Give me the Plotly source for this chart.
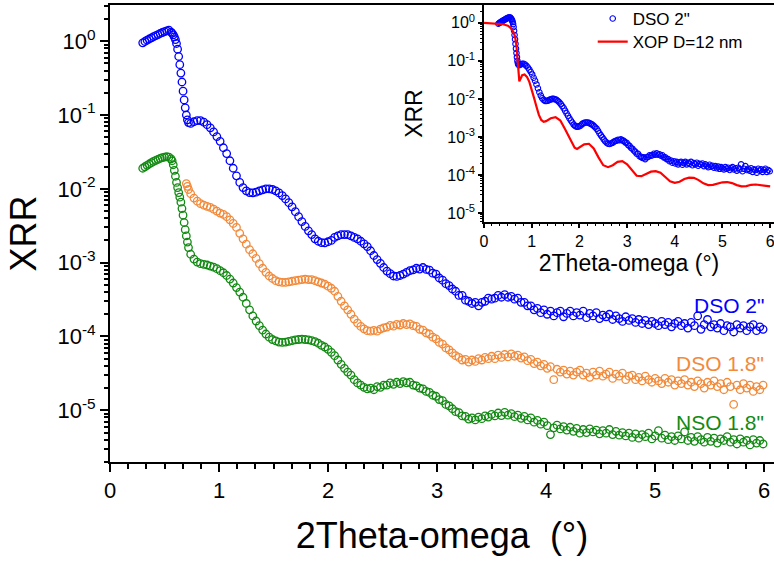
import plotly.graph_objects as go

# ---------------- data ----------------
x_scan = [
    0.30, 0.32, 0.34, 0.36, 0.38, 0.40, 0.42, 0.44, 0.46, 0.48, 0.50, 0.52, 0.54, 0.56,
    0.57, 0.58, 0.59, 0.60, 0.61, 0.62, 0.63, 0.64, 0.65, 0.66, 0.67, 0.68, 0.69, 0.70, 0.71, 0.72,
    0.74, 0.77, 0.80, 0.83, 0.86, 0.89, 0.92, 0.95, 0.98, 1.01,
    1.04, 1.07, 1.10, 1.13, 1.16, 1.19, 1.22, 1.25, 1.28, 1.31,
    1.34, 1.37, 1.40, 1.43, 1.46, 1.49, 1.52, 1.55, 1.58, 1.61,
    1.64, 1.67, 1.70, 1.73, 1.76, 1.79, 1.82, 1.85, 1.88, 1.91,
    1.94, 1.97, 2.00, 2.03, 2.06, 2.09, 2.12, 2.15, 2.18, 2.21,
    2.24, 2.27, 2.30, 2.33, 2.36, 2.39, 2.42, 2.45, 2.48, 2.51,
    2.54, 2.57, 2.60, 2.63, 2.66, 2.69, 2.72, 2.75, 2.78, 2.81,
    2.84, 2.87, 2.90, 2.93, 2.96, 2.99, 3.02, 3.05, 3.08, 3.11,
    3.14, 3.17, 3.20, 3.23, 3.26, 3.29, 3.32, 3.35, 3.38, 3.41,
    3.44, 3.47, 3.50,
    3.53, 3.56, 3.59, 3.62, 3.65, 3.68, 3.71, 3.74, 3.77, 3.80,
    3.83, 3.86, 3.89, 3.92, 3.95, 3.98, 4.01, 4.04, 4.07, 4.10,
    4.13, 4.16, 4.19, 4.22, 4.25, 4.28, 4.31, 4.34, 4.37, 4.40,
    4.43, 4.46, 4.49, 4.52, 4.55, 4.58, 4.61, 4.64, 4.67, 4.70,
    4.73, 4.76, 4.79, 4.82, 4.85, 4.88, 4.91, 4.94, 4.97, 5.00,
    5.03, 5.06, 5.09, 5.12, 5.15, 5.18, 5.21, 5.24, 5.27, 5.30,
    5.33, 5.36, 5.39, 5.42, 5.45, 5.48, 5.51, 5.54, 5.57, 5.60,
    5.63, 5.66, 5.69, 5.72, 5.75, 5.78, 5.81, 5.84, 5.87, 5.90,
    5.93, 5.96, 5.99,
]

dso2_y = [
    0.95, 0.99, 1.03, 1.07, 1.11, 1.15, 1.19, 1.23, 1.27, 1.31, 1.35, 1.38, 1.41, 1.33,
    1.28, 1.22, 1.14, 1.05, 0.93, 0.78, 0.62, 0.48, 0.37, 0.28, 0.21, 0.16, 0.125, 0.10, 0.086, 0.079,
    0.077, 0.081, 0.084, 0.084, 0.080, 0.074, 0.067, 0.059, 0.051, 0.044,
    0.036, 0.030, 0.024, 0.019, 0.015, 0.0122, 0.0104, 0.0094, 0.0089, 0.0088,
    0.0090, 0.0094, 0.0097, 0.0100, 0.0100, 0.0098, 0.0094, 0.0088, 0.0081, 0.0073,
    0.0065, 0.0057, 0.0049, 0.0042, 0.0036, 0.0031, 0.0027, 0.0024, 0.0021, 0.00195,
    0.00187, 0.00185, 0.00192, 0.0020, 0.0022, 0.0023, 0.0024, 0.0024, 0.0024, 0.0023,
    0.0022, 0.0021, 0.00195, 0.0018, 0.00165, 0.00145, 0.00125, 0.0011, 0.00098, 0.00086,
    0.00077, 0.00071, 0.00066, 0.00065, 0.00067, 0.00070, 0.00074, 0.00078, 0.00080, 0.00084,
    0.00082, 0.00086, 0.00081, 0.00079, 0.00072, 0.00070, 0.00062, 0.00058, 0.00052, 0.00049,
    0.00044, 0.00041, 0.00036, 0.00036, 0.00031, 0.00030, 0.00028, 0.00029, 0.00026, 0.00029,
    0.00030, 0.00033, 0.00032,
    3.3e-4, 3.6e-4, 3.4e-4, 3.7e-4, 3.4e-4, 3.5e-4, 3.2e-4, 3.3e-4, 2.9e-4, 2.9e-4,
    2.6e-4, 2.6e-4, 2.3e-4, 2.4e-4, 2.1e-4, 2.3e-4, 2.0e-4, 2.2e-4, 1.9e-4, 2.1e-4,
    2.2e-4, 1.85e-4, 2.05e-4, 2.2e-4, 1.9e-4, 2.1e-4, 1.95e-4, 2.2e-4, 1.8e-4, 2.05e-4,
    1.9e-4, 2.1e-4, 1.75e-4, 1.95e-4, 1.85e-4, 2.0e-4, 1.7e-4, 1.9e-4, 1.75e-4, 1.6e-4,
    1.85e-4, 1.65e-4, 1.75e-4, 1.55e-4, 1.7e-4, 1.5e-4, 1.65e-4, 1.45e-4, 1.6e-4, 1.5e-4,
    1.4e-4, 1.6e-4, 1.45e-4, 1.55e-4, 1.35e-4, 1.5e-4, 1.6e-4, 1.4e-4, 1.5e-4, 1.3e-4,
    1.55e-4, 1.4e-4, 1.9e-4, 1.25e-4, 1.45e-4, 1.7e-4, 1.35e-4, 1.45e-4, 1.3e-4, 1.5e-4,
    1.2e-4, 1.4e-4, 1.35e-4, 1.15e-4, 1.45e-4, 1.3e-4, 1.4e-4, 1.2e-4, 1.35e-4, 1.45e-4,
    1.2e-4, 1.35e-4, 1.25e-4,
]

x_dso18 = x_scan[27:]
dso18_y = [
    0.0118, 0.0108, 0.0098,
    0.0086, 0.0075, 0.0068, 0.0063, 0.0060, 0.0058, 0.0056, 0.0053, 0.0050, 0.0047,
    0.0045, 0.0042, 0.0038, 0.0034, 0.0030, 0.0025, 0.0021, 0.00178, 0.0015, 0.00132,
    0.00114, 0.00097, 0.00084, 0.00074, 0.00066, 0.00061, 0.00057, 0.00055, 0.00054, 0.00054,
    0.00055, 0.00056, 0.00057, 0.00058, 0.00059, 0.00060, 0.00059, 0.00059, 0.00057, 0.00055,
    0.00053, 0.00051, 0.00048, 0.00045, 0.00041, 0.00035, 0.00030, 0.00026, 0.00023, 0.00020,
    1.72e-4, 1.52e-4, 1.37e-4, 1.27e-4, 1.20e-4, 1.18e-4, 1.21e-4, 1.18e-4, 1.26e-4, 1.31e-4,
    1.34e-4, 1.41e-4, 1.38e-4, 1.46e-4, 1.43e-4, 1.50e-4, 1.45e-4, 1.48e-4, 1.40e-4, 1.37e-4,
    1.25e-4, 1.22e-4, 1.12e-4, 1.08e-4, 9.8e-5, 9.3e-5, 8.3e-5, 7.9e-5, 7.0e-5, 6.6e-5,
    6.0e-5, 5.5e-5, 5.2e-5, 4.8e-5, 4.9e-5, 4.5e-5, 4.8e-5, 4.6e-5, 5.0e-5, 4.8e-5,
    5.2e-5, 5.0e-5, 5.4e-5,
    5.0e-5, 5.6e-5, 5.2e-5, 5.7e-5, 5.3e-5, 5.8e-5, 5.4e-5, 5.6e-5, 5.1e-5, 5.3e-5,
    4.7e-5, 4.9e-5, 4.3e-5, 4.5e-5, 4.0e-5, 4.2e-5, 3.7e-5, 3.9e-5, 2.6e-5, 3.6e-5,
    3.3e-5, 3.5e-5, 3.1e-5, 3.4e-5, 3.0e-5, 3.3e-5, 3.5e-5, 3.0e-5, 3.2e-5, 2.8e-5,
    3.3e-5, 3.0e-5, 3.4e-5, 2.9e-5, 3.1e-5, 3.3e-5, 2.7e-5, 3.1e-5, 2.9e-5, 3.2e-5,
    2.6e-5, 2.9e-5, 3.0e-5, 2.6e-5, 2.8e-5, 2.5e-5, 2.9e-5, 2.6e-5, 2.4e-5, 2.7e-5,
    2.5e-5, 2.3e-5, 2.7e-5, 2.4e-5, 2.6e-5, 2.2e-5, 2.5e-5, 2.3e-5, 2.6e-5, 2.2e-5,
    2.4e-5, 2.1e-5, 2.5e-5, 2.3e-5, 2.0e-5, 2.4e-5, 2.2e-5, 2.5e-5, 2.1e-5, 2.3e-5,
    1.9e-5, 2.4e-5, 2.1e-5, 1.2e-5, 2.2e-5, 1.9e-5, 2.3e-5, 2.0e-5, 2.2e-5, 1.8e-5,
    2.1e-5, 1.9e-5, 2.2e-5,
]

nso18_y = [
    0.0190, 0.0199, 0.0208, 0.0217, 0.0226, 0.0235, 0.0243, 0.0251, 0.0258, 0.0264, 0.0269, 0.0272, 0.0268, 0.0255,
    0.0240, 0.0212, 0.0178, 0.0148, 0.0122, 0.0104, 0.0089, 0.0077, 0.0066, 0.0054, 0.0044, 0.0035, 0.0028, 0.0023, 0.0019, 0.0016,
    0.00130, 0.00112, 0.00102, 0.00097, 0.00095, 0.00093, 0.00090, 0.00087, 0.00083, 0.00078,
    0.00073, 0.00067, 0.00060, 0.00053, 0.00046, 0.00040, 0.00034, 0.00028, 0.00023, 0.00019,
    1.62e-4, 1.40e-4, 1.22e-4, 1.08e-4, 9.8e-5, 9.1e-5, 8.7e-5, 8.4e-5, 8.3e-5, 8.4e-5,
    8.6e-5, 8.8e-5, 9.0e-5, 9.1e-5, 9.2e-5, 9.1e-5, 9.0e-5, 8.8e-5, 8.5e-5, 8.1e-5,
    7.6e-5, 7.2e-5, 6.7e-5, 6.1e-5, 5.5e-5, 4.8e-5, 4.2e-5, 3.7e-5, 3.3e-5, 3.0e-5,
    2.6e-5, 2.35e-5, 2.2e-5, 2.05e-5, 1.95e-5, 2.0e-5, 1.9e-5, 2.1e-5, 2.05e-5, 2.2e-5,
    2.2e-5, 2.35e-5, 2.25e-5, 2.4e-5, 2.3e-5, 2.45e-5, 2.35e-5, 2.4e-5, 2.2e-5, 2.15e-5,
    2.0e-5, 1.95e-5, 1.8e-5, 1.75e-5, 1.6e-5, 1.55e-5, 1.4e-5, 1.35e-5, 1.2e-5, 1.15e-5,
    1.05e-5, 9.6e-6, 9.3e-6, 8.4e-6, 8.3e-6, 7.6e-6, 7.9e-6, 7.4e-6, 8.1e-6, 7.7e-6,
    8.4e-6, 8.1e-6, 8.8e-6,
    8.4e-6, 9.2e-6, 8.5e-6, 9.4e-6, 8.6e-6, 9.0e-6, 8.2e-6, 8.6e-6, 7.8e-6, 8.3e-6,
    7.4e-6, 7.9e-6, 6.9e-6, 7.3e-6, 6.5e-6, 6.9e-6, 6.2e-6, 4.7e-6, 5.8e-6, 6.3e-6,
    5.6e-6, 6.0e-6, 5.4e-6, 5.9e-6, 5.2e-6, 5.7e-6, 4.9e-6, 5.5e-6, 5.0e-6, 5.6e-6,
    5.1e-6, 5.4e-6, 4.8e-6, 5.3e-6, 4.9e-6, 5.5e-6, 4.7e-6, 5.2e-6, 4.6e-6, 5.0e-6,
    4.5e-6, 4.9e-6, 4.3e-6, 4.8e-6, 4.2e-6, 4.7e-6, 4.4e-6, 4.9e-6, 4.1e-6, 4.5e-6,
    5.3e-6, 4.2e-6, 4.6e-6, 4.0e-6, 4.4e-6, 3.9e-6, 4.5e-6, 4.1e-6, 5.1e-6, 3.9e-6,
    4.3e-6, 3.8e-6, 4.4e-6, 4.0e-6, 3.7e-6, 4.3e-6, 3.8e-6, 4.2e-6, 3.6e-6, 4.1e-6,
    3.9e-6, 4.4e-6, 3.7e-6, 4.0e-6, 3.5e-6, 4.1e-6, 3.7e-6, 3.9e-6, 3.4e-6, 4.0e-6,
    3.6e-6, 3.9e-6, 3.5e-6,
]

xop_x = [0.00, 0.20, 0.40, 0.50, 0.55, 0.60, 0.65, 0.68, 0.70, 0.72, 0.74, 0.76, 0.80, 0.85,
         0.90, 0.95, 1.00, 1.05, 1.10, 1.15, 1.20, 1.25, 1.30, 1.40, 1.50, 1.60, 1.70, 1.80,
         1.90, 1.95, 2.00, 2.10, 2.20, 2.30, 2.40, 2.50, 2.60, 2.70, 2.80, 2.90, 3.00, 3.10,
         3.20, 3.30, 3.40, 3.50, 3.60, 3.70, 3.80, 3.90, 4.00, 4.10, 4.20, 4.30, 4.40, 4.50,
         4.60, 4.70, 4.80, 4.90, 5.00, 5.10, 5.20, 5.30, 5.40, 5.50, 5.60, 5.70, 5.80, 5.90, 6.00]
xop_y = [1.0, 0.97, 0.92, 0.84, 0.75, 0.62, 0.44, 0.25, 0.12, 0.05, 0.029, 0.033, 0.042, 0.044,
         0.038, 0.028, 0.018, 0.0105, 0.0062, 0.0038, 0.0028, 0.0025, 0.0026, 0.0031, 0.0033, 0.0027, 0.0016, 0.00092,
         0.00052, 0.00048, 0.00052, 0.00064, 0.00066, 0.00050, 0.00029, 0.00018, 0.00016, 0.00018, 0.00022, 0.00023, 0.00019, 0.00013,
         9.5e-5, 9.3e-5, 1.08e-4, 1.22e-4, 1.26e-4, 1.15e-4, 8.8e-5, 6.8e-5, 6.2e-5, 6.6e-5, 7.8e-5, 8.5e-5, 8.4e-5, 7.3e-5,
         6.0e-5, 5.4e-5, 5.5e-5, 6.0e-5, 6.4e-5, 6.5e-5, 6.1e-5, 5.4e-5, 5.0e-5, 5.1e-5, 5.5e-5, 5.6e-5, 5.4e-5, 5.2e-5, 5.0e-5]

x_ticks = [0, 1, 2, 3, 4, 5, 6]
y_tickvals = [1e-5, 1e-4, 1e-3, 1e-2, 1e-1, 1]
y_ticktext = ["10<sup>-5</sup>", "10<sup>-4</sup>", "10<sup>-3</sup>", "10<sup>-2</sup>",
              "10<sup>-1</sup>", "10<sup>0</sup>"]

# ---------------- figure ----------------
FONT = "Liberation Sans, Arial, sans-serif"
BLUE = "#0000ff"
ORANGE = "#f28a3a"
GREEN = "#138a13"
RED = "#ff0000"

minor_log = [m * 10.0 ** e for e in range(-6, 1) for m in range(2, 10)]

fig = go.Figure()

def mk(color, size, lw):
    return dict(symbol="circle-open", size=size, color=color, line=dict(width=lw, color=color))

fig.add_trace(go.Scatter(x=x_scan, y=dso2_y, mode="markers", marker=mk(BLUE, 7.5, 1.3),
                         showlegend=False, xaxis="x", yaxis="y"))
fig.add_trace(go.Scatter(x=x_dso18, y=dso18_y, mode="markers", marker=mk(ORANGE, 7.5, 1.3),
                         showlegend=False, xaxis="x", yaxis="y"))
fig.add_trace(go.Scatter(x=x_scan, y=nso18_y, mode="markers", marker=mk(GREEN, 7.5, 1.3),
                         showlegend=False, xaxis="x", yaxis="y"))

# inset
fig.add_trace(go.Scatter(x=x_scan, y=dso2_y, mode="markers", marker=mk(BLUE, 5.5, 1.1),
                         name='DSO 2"', xaxis="x2", yaxis="y2", legend="legend"))
fig.add_trace(go.Scatter(x=xop_x, y=xop_y, mode="lines", line=dict(color=RED, width=2.2),
                         name="XOP D=12 nm", xaxis="x2", yaxis="y2", legend="legend2"))

axis_common = dict(showgrid=False, zeroline=False, showline=True, linecolor="black",
                   ticks="outside", tickcolor="black", ticklabeloverflow="allow")

legend_common = dict(xanchor="left", yanchor="middle", bgcolor="rgba(0,0,0,0)",
                     font=dict(size=17, family=FONT))

fig.update_layout(
    width=774, height=561,
    margin=dict(l=110, r=0, t=5, b=99),
    paper_bgcolor="white", plot_bgcolor="white",
    font=dict(family=FONT, color="black"),
    xaxis=dict(**axis_common, domain=[0, 1], anchor="y", range=[0, 6.09],
               tickmode="array", tickvals=x_ticks, ticklen=8, tickwidth=2, linewidth=2, mirror=True,
               minor=dict(tickmode="linear", tick0=0, dtick=1 / 6, ticks="outside", ticklen=5,
                          tickwidth=1.5, tickcolor="black"),
               tickfont=dict(size=22, family=FONT),
               title=dict(text="2Theta-omega \u00a0(°)", font=dict(size=36, family=FONT), standoff=20)),
    yaxis=dict(**axis_common, domain=[0, 1], anchor="x", type="log", range=[-5.7, 0.49],
               tickmode="array", tickvals=y_tickvals, ticktext=y_ticktext, ticklen=8, tickwidth=2,
               linewidth=2,
               minor=dict(tickmode="array", tickvals=minor_log, ticks="outside", ticklen=4,
                          tickwidth=1.5, tickcolor="black"),
               tickfont=dict(size=22, family=FONT),
               title=dict(text="XRR", font=dict(size=36, family=FONT), standoff=10)),
    xaxis2=dict(**axis_common, domain=[0.5633, 1], anchor="y2", range=[0, 6.08],
                tickmode="array", tickvals=x_ticks, ticklen=4, tickwidth=1.5, linewidth=1.5,
                minor=dict(tickmode="linear", tick0=0, dtick=1 / 6, ticks="outside", ticklen=2.5,
                           tickwidth=1, tickcolor="black"),
                tickfont=dict(size=16, family=FONT),
                title=dict(text="2Theta-omega (°)", font=dict(size=23, family=FONT), standoff=6)),
    yaxis2=dict(**axis_common, domain=[0.525, 1], anchor="x2", type="log", range=[-5.24, 0.47],
                tickmode="array", tickvals=y_tickvals, ticktext=y_ticktext, ticklen=4, tickwidth=1.5,
                linewidth=1.5,
                minor=dict(tickmode="array", tickvals=minor_log, ticks="outside", ticklen=2,
                           tickwidth=1, tickcolor="black"),
                tickfont=dict(size=16, family=FONT),
                title=dict(text="XRR", font=dict(size=23, family=FONT), standoff=18)),
    legend=dict(**legend_common, x=0.727, y=0.9694),
    legend2=dict(**legend_common, x=0.727, y=0.919),
)

labels = [('DSO 2"', -3.578, BLUE), ('DSO 1.8"', -4.361, ORANGE), ('NSO 1.8"', -5.159, GREEN)]
for txt, ly, col in labels:
    fig.add_annotation(x=6.02, y=ly, xref="x", yref="y", text=txt, showarrow=False,
                       xanchor="right", yanchor="middle", font=dict(size=21, color=col, family=FONT))

fig.write_html("out.html")
